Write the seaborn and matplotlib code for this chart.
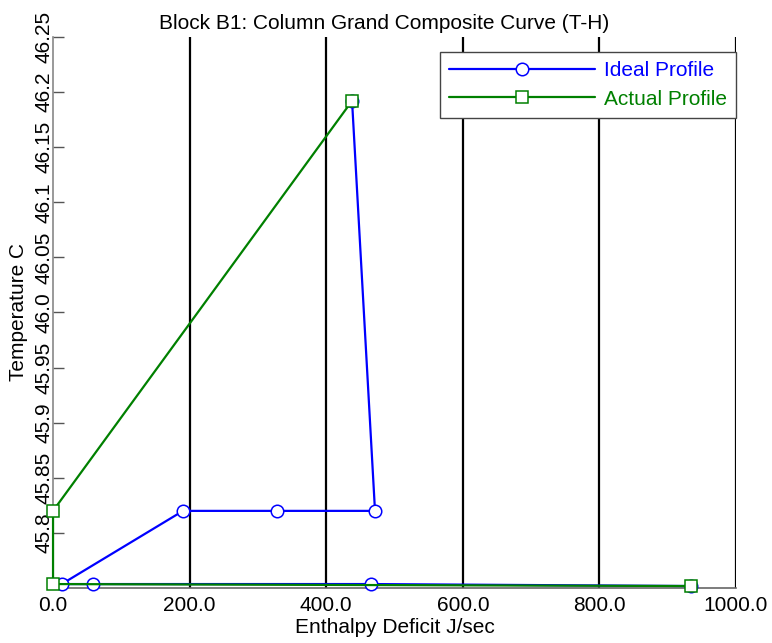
import matplotlib
matplotlib.use("Agg")
import matplotlib.pyplot as plt
import seaborn as sns
import pandas as pd

# Column grand composite curve data (enthalpy deficit J/sec, temperature C)
ideal_h = [934.0, 465.6, 58.6, 12.7, 190.3, 327.5, 471.4, 437.8]
ideal_t = [45.7518, 45.7536, 45.7536, 45.7536, 45.8200, 45.8200, 45.8200, 46.1920]
actual_h = [437.8, 0.0, 0.0, 934.0]
actual_t = [46.1920, 45.8200, 45.7536, 45.7518]

x_ticks = [0, 200, 400, 600, 800, 1000]
x_tick_labels = ["0.0", "200.0", "400.0", "600.0", "800.0", "1000.0"]
y_ticks = [45.8, 45.85, 45.9, 45.95, 46.0, 46.05, 46.1, 46.15, 46.2, 46.25]
y_tick_labels = ["45.8", "45.85", "45.9", "45.95", "46.0", "46.05", "46.1", "46.15", "46.2", "46.25"]

sns.set_style("white")
plt.rcParams["font.family"] = ["Liberation Sans", "DejaVu Sans"]
plt.rcParams.update({"text.color": "black", "axes.labelcolor": "black",
                     "xtick.color": "black", "ytick.color": "black"})

fig = plt.figure(figsize=(7.72, 6.43), dpi=100)
ax = fig.add_axes([0.0687, 0.0855, 0.8847, 0.857])

ideal = pd.DataFrame({"h": ideal_h, "t": ideal_t})
actual = pd.DataFrame({"h": actual_h, "t": actual_t})

sns.lineplot(data=ideal, x="h", y="t", sort=False, estimator=None, ax=ax,
             color="#0000ff", lw=1.6, marker="o", markersize=9,
             markerfacecolor="white", markeredgecolor="#0000ff",
             markeredgewidth=1.1, label="Ideal Profile", zorder=3,
             clip_on=False)
sns.lineplot(data=actual, x="h", y="t", sort=False, estimator=None, ax=ax,
             color="#008000", lw=1.6, marker="s", markersize=8.5,
             markerfacecolor="white", markeredgecolor="#008000",
             markeredgewidth=1.1, label="Actual Profile", zorder=4,
             clip_on=False)

ax.set_xlim(0, 1000)
ax.set_ylim(45.75, 46.25)

# vertical reference lines at the major x ticks
for xv in x_ticks[1:]:
    ax.axvline(xv, color="black", lw=1.6, zorder=1)

ax.set_xticks(x_ticks)
ax.set_xticklabels(x_tick_labels, fontsize=15)
ax.set_yticks(y_ticks)
ax.set_yticklabels(y_tick_labels, fontsize=15, rotation=90, va="center")
ax.tick_params(axis="x", length=0, pad=6)
ax.tick_params(axis="y", direction="in", length=8, width=1, color="#555555",
               pad=0, left=True)

ax.spines["top"].set_visible(False)
ax.spines["right"].set_visible(False)
ax.spines["left"].set_color("#888888")
ax.spines["left"].set_linewidth(1.2)
ax.spines["bottom"].set_color("#666666")
ax.spines["bottom"].set_linewidth(1.2)

ax.set_xlabel("Enthalpy Deficit J/sec", fontsize=15, labelpad=2)
ax.set_ylabel("Temperature C", fontsize=15)
ax.yaxis.set_label_coords(-0.036, 0.5)
ax.set_title("Block B1: Column Grand Composite Curve (T-H)", fontsize=15,
             pad=6, x=0.485)

leg = ax.legend(loc="upper right", bbox_to_anchor=(1.0, 0.973), fontsize=15,
                handlelength=7.0, handletextpad=0.4, labelspacing=0.45,
                borderpad=0.45, fancybox=False, framealpha=1,
                edgecolor="#444444", borderaxespad=0)
leg.get_frame().set_linewidth(1.0)
for text, col in zip(leg.get_texts(), ["#0000ff", "#008000"]):
    text.set_color(col)

fig.savefig("out.png", dpi=100)
